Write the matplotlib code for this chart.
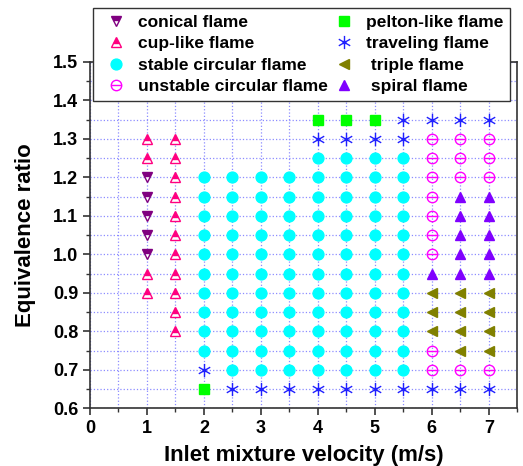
import numpy as np
import matplotlib
matplotlib.use('Agg')
import matplotlib.pyplot as plt
from matplotlib.path import Path
from matplotlib.ticker import MultipleLocator, FormatStrFormatter

plt.rcParams['font.family'] = ['Liberation Sans', 'DejaVu Sans']
plt.rcParams['font.weight'] = 'bold'

# --- data (velocity m/s, equivalence ratio) ---
conical_x = [1, 1, 1, 1, 1]
conical_y = [1.2, 1.15, 1.1, 1.05, 1.0]

cup_x = [1, 1, 1, 1, 1.5, 1.5, 1.5, 1.5, 1.5, 1.5, 1.5, 1.5, 1.5, 1.5, 1.5]
cup_y = [1.3, 1.25, 0.95, 0.9, 1.3, 1.25, 1.2, 1.15, 1.1, 1.05, 1.0, 0.95, 0.9, 0.85, 0.8]

stable_cols = [2, 2.5, 3, 3.5, 4, 4.5, 5, 5.5]
stable_col_y = [
    [1.2, 1.15, 1.1, 1.05, 1.0, 0.95, 0.9, 0.85, 0.8, 0.75],
    [1.2, 1.15, 1.1, 1.05, 1.0, 0.95, 0.9, 0.85, 0.8, 0.75, 0.7],
    [1.2, 1.15, 1.1, 1.05, 1.0, 0.95, 0.9, 0.85, 0.8, 0.75, 0.7],
    [1.2, 1.15, 1.1, 1.05, 1.0, 0.95, 0.9, 0.85, 0.8, 0.75, 0.7],
    [1.25, 1.2, 1.15, 1.1, 1.05, 1.0, 0.95, 0.9, 0.85, 0.8, 0.75, 0.7],
    [1.25, 1.2, 1.15, 1.1, 1.05, 1.0, 0.95, 0.9, 0.85, 0.8, 0.75, 0.7],
    [1.25, 1.2, 1.15, 1.1, 1.05, 1.0, 0.95, 0.9, 0.85, 0.8, 0.75, 0.7],
    [1.25, 1.2, 1.15, 1.1, 1.05, 1.0, 0.95, 0.9, 0.85, 0.8, 0.75, 0.7],
]

unstable_x = [6, 6, 6, 6, 6, 6, 6, 6, 6, 6.5, 6.5, 6.5, 6.5, 7, 7, 7, 7]
unstable_y = [1.3, 1.25, 1.2, 1.15, 1.1, 1.05, 1.0, 0.75, 0.7,
              1.3, 1.25, 1.2, 0.7, 1.3, 1.25, 1.2, 0.7]

pelton_x = [2, 4, 4.5, 5]
pelton_y = [0.65, 1.35, 1.35, 1.35]

traveling_x = [2, 2.5, 3, 3.5, 4, 4.5, 5, 5.5, 6, 6.5, 7,
               4, 4.5, 5, 5.5, 5.5, 6, 6.5, 7]
traveling_y = [0.7, 0.65, 0.65, 0.65, 0.65, 0.65, 0.65, 0.65, 0.65, 0.65, 0.65,
               1.3, 1.3, 1.3, 1.3, 1.35, 1.35, 1.35, 1.35]

triple_x = [6, 6, 6, 6.5, 6.5, 6.5, 6.5, 7, 7, 7, 7]
triple_y = [0.9, 0.85, 0.8, 0.9, 0.85, 0.8, 0.75, 0.9, 0.85, 0.8, 0.75]

spiral_x = [6, 6.5, 6.5, 6.5, 6.5, 6.5, 7, 7, 7, 7, 7]
spiral_y = [0.95, 1.15, 1.1, 1.05, 1.0, 0.95, 1.15, 1.1, 1.05, 1.0, 0.95]

# custom markers: circle with a bar, asterisk with a centre dot
theta_bar = Path([(-1, 0), (1, 0)], [Path.MOVETO, Path.LINETO])
circle_bar = Path.make_compound_path(Path.unit_circle(), theta_bar)

spokes = []
for a in [90, 150, 210]:
    r = np.deg2rad(a)
    spokes.append(Path([(np.cos(r), np.sin(r)), (-np.cos(r), -np.sin(r))],
                       [Path.MOVETO, Path.LINETO]))
dot = Path.circle((0, 0), 0.18)
asterisk = Path.make_compound_path(*spokes, dot)

stable_x = []
stable_y = []
for cx, ys in zip(stable_cols, stable_col_y):
    stable_x += [cx] * len(ys)
    stable_y += ys

fig = plt.figure(figsize=(5.23, 4.66), dpi=100)
ax = fig.add_axes([0.172, 0.124, 0.817, 0.743])

ms = 7.5
ax.plot(conical_x, conical_y, 'v', ls='none', ms=ms, color='#800080',
        fillstyle='top', markerfacecoloralt='white', mew=1, label='conical flame')
ax.plot(cup_x, cup_y, '^', ls='none', ms=ms, color='#ff0080',
        fillstyle='top', markerfacecoloralt='white', mew=1, label='cup-like flame')
ax.plot(stable_x, stable_y, 'o', ls='none', ms=ms + 0.3, color='#00ffff',
        label='stable circular flame')
ax.plot(unstable_x, unstable_y, marker=circle_bar, ls='none', ms=ms,
        mfc='none', mec='#ff00ff', mew=1, label='unstable circular flame')
ax.plot(pelton_x, pelton_y, 's', ls='none', ms=ms - 0.8, color='#00ff00',
        label='pelton-like flame')
ax.plot(traveling_x, traveling_y, marker=asterisk, ls='none', ms=ms + 2,
        mfc='#2020ff', mec='#2020ff', mew=1, label='traveling flame')
ax.plot(triple_x, triple_y, '<', ls='none', ms=ms + 0.3, color='#808000',
        label=' triple flame')
ax.plot(spiral_x, spiral_y, '^', ls='none', ms=ms + 0.3, color='#8000ff',
        label=' spiral flame')

ax.set_xlim(0, 7.5)
ax.set_ylim(0.6, 1.5)
ax.xaxis.set_major_locator(MultipleLocator(1))
ax.xaxis.set_minor_locator(MultipleLocator(0.5))
ax.yaxis.set_major_locator(MultipleLocator(0.1))
ax.yaxis.set_minor_locator(MultipleLocator(0.05))
ax.yaxis.set_major_formatter(FormatStrFormatter('%.1f'))
ax.set_xticks([0, 1, 2, 3, 4, 5, 6, 7])

ax.set_axisbelow(True)
ax.grid(which='both', color='#8c8cff', linestyle=':', linewidth=0.9)

for s in ax.spines.values():
    s.set_linewidth(1.2)
    s.set_color('#333333')
ax.tick_params(which='major', direction='out', length=5, width=1.2,
               labelsize=13, colors='#333333', labelcolor='black')
ax.tick_params(which='minor', direction='out', length=3, width=1.0,
               colors='#333333')

ax.set_xlabel('Inlet mixture velocity (m/s)', fontsize=16, fontweight='bold', labelpad=6)
ax.set_ylabel('Equivalence ratio', fontsize=16, fontweight='bold', labelpad=12)

leg = ax.legend(ncol=2, loc='upper left', bbox_to_anchor=(0.007, 1.156),
                fontsize=12.5, frameon=True, fancybox=False,
                edgecolor='#333333', framealpha=1, borderpad=0.4,
                labelspacing=0.36, handletextpad=0.35, handlelength=1.85,
                columnspacing=0.0, borderaxespad=0)
leg.get_frame().set_linewidth(1.0)
for t in leg.get_texts():
    t.set_fontweight('bold')

fig.savefig('out.png', dpi=100)
